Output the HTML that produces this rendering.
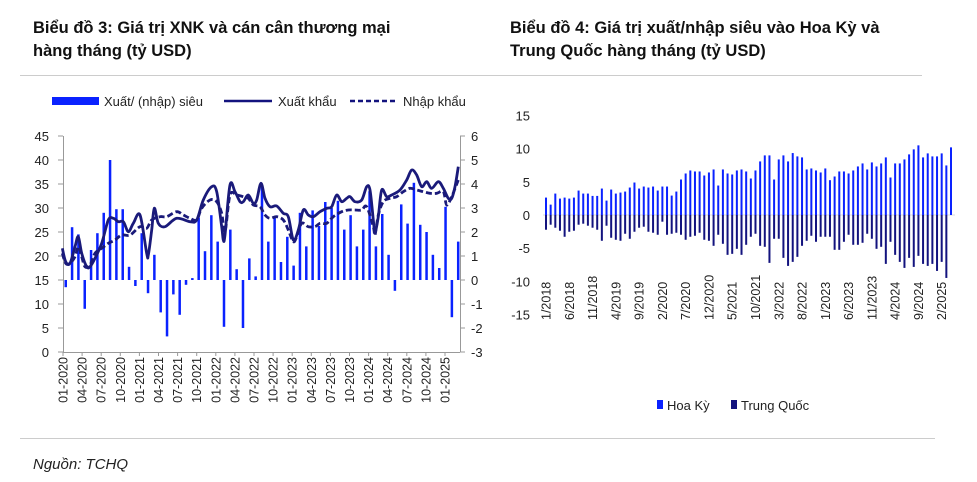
<!DOCTYPE html>
<html><head><meta charset="utf-8">
<style>
html,body{margin:0;padding:0;background:#fff;width:977px;height:482px;overflow:hidden}
svg{display:block;font-family:"Liberation Sans",sans-serif}
</style></head><body>
<svg id="s" width="977" height="482" xmlns="http://www.w3.org/2000/svg">
<text x="33" y="33" font-size="16.5" font-weight="bold" fill="#111">Biểu đồ 3: Giá trị XNK và cán cân thương mại</text>
<text x="33" y="56" font-size="16.5" font-weight="bold" fill="#111">hàng tháng (tỷ USD)</text>
<text x="510" y="33" font-size="16.5" font-weight="bold" fill="#111">Biểu đồ 4: Giá trị xuất/nhập siêu vào Hoa Kỳ và</text>
<text x="510" y="56" font-size="16.5" font-weight="bold" fill="#111">Trung Quốc hàng tháng (tỷ USD)</text>
<line x1="20" y1="75.5" x2="922" y2="75.5" stroke="#ccc" stroke-width="1"/>
<line x1="20" y1="438.5" x2="935" y2="438.5" stroke="#ccc" stroke-width="1"/>
<text x="33" y="469" font-size="15" font-style="italic" fill="#222">Nguồn: TCHQ</text>
<rect x="52" y="97" width="47" height="8" fill="#0a22ff"/>
<text x="104" y="106" font-size="13" fill="#222">Xuất/ (nhập) siêu</text>
<line x1="224" y1="101" x2="272" y2="101" stroke="#13137e" stroke-width="2.5"/>
<text x="278" y="106" font-size="13" fill="#222">Xuất khẩu</text>
<line x1="350" y1="101" x2="398" y2="101" stroke="#13137e" stroke-width="2.5" stroke-dasharray="5,3"/>
<text x="403" y="106" font-size="13" fill="#222">Nhập khẩu</text>
<rect x="657" y="400" width="6" height="9" fill="#0a22ff"/>
<text x="667" y="410" font-size="13" fill="#222">Hoa Kỳ</text>
<rect x="731" y="400" width="6" height="9" fill="#13137e"/>
<text x="741" y="410" font-size="13" fill="#222">Trung Quốc</text>
<g id="g"></g>
</svg>
<script>
var g=document.getElementById('g'),h='';
var yL=function(v){return 352-v*4.8},yR=function(v){return 280-v*24};
for(var i=0;i<=9;i++){var v=i*5;h+='<text x="49" y="'+(yL(v)+5)+'" font-size="13" text-anchor="end" fill="#222">'+v+'</text>';h+='<line x1="58" x2="63" y1="'+yL(v)+'" y2="'+yL(v)+'" stroke="#999"/>';}
for(var i=-3;i<=6;i++){h+='<text x="471" y="'+(yR(i)+5)+'" font-size="13" fill="#222">'+i+'</text>';h+='<line x1="460" x2="465" y1="'+yR(i)+'" y2="'+yR(i)+'" stroke="#999"/>';}
h+='<line x1="63.5" y1="136" x2="63.5" y2="352" stroke="#999"/><line x1="460.5" y1="136" x2="460.5" y2="352" stroke="#999"/><line x1="63" y1="352.5" x2="460" y2="352.5" stroke="#999"/>';
var bal=[-0.3,2.2,1.9,-1.2,1.25,1.95,2.8,5.0,2.95,2.95,0.55,-0.25,1.95,-0.55,1.05,-1.35,-2.35,-0.6,-1.45,-0.2,0.08,2.6,1.2,2.7,1.6,-1.95,2.1,0.45,-2.0,0.9,0.15,3.9,1.6,2.6,0.75,1.8,0.6,2.8,1.4,2.9,2.25,3.25,3.0,3.3,2.1,2.7,1.4,2.1,3.7,1.4,2.75,1.05,-0.45,3.15,2.35,4.05,2.3,2.0,1.05,0.5,3.05,-1.55,1.6];
var bx=function(i){return 65.7+i*6.33};
for(var i=0;i<63;i++){var v=bal[i];h+='<rect x="'+(bx(i)-1.2)+'" width="2.5" y="'+Math.min(yR(v),280)+'" height="'+Math.abs(v*24)+'" fill="#0a22ff"/>';}
var EX=[[97,385],[107,425],[120,430],[135,380],[145,350],[155,400],[170,440],[180,440],[195,415],[215,370],[235,300],[250,295],[265,305],[280,305],[295,335],[310,310],[330,285],[350,400],[355,405],[365,330],[373,265],[385,310],[405,320],[440,295],[480,305],[500,300],[520,240],[545,200],[560,215],[575,320],[580,360],[585,345],[600,195],[615,215],[630,245],[640,245],[655,225],[670,250],[680,240],[693,190],[705,235],[720,260],[740,258],[760,280],[775,290],[790,360],[805,330],[820,270],[835,285],[850,290],[870,275],[890,265],[905,260],[920,225],[935,245],[950,235],[960,230],[975,245],[995,240],[1010,200],[1020,210],[1030,300],[1035,340],[1045,290],[1055,210],[1070,230],[1085,225],[1110,210],[1130,180],[1145,150],[1160,165],[1175,200],[1190,185],[1205,205],[1225,185],[1240,205],[1255,235],[1265,235],[1275,200],[1285,140]];
var IM=[[97,400],[107,430],[120,430],[135,410],[145,380],[155,410],[165,440],[180,435],[195,400],[215,385],[235,370],[255,360],[275,345],[300,345],[330,320],[350,325],[365,300],[390,290],[410,290],[440,275],[460,285],[480,295],[500,300],[515,265],[540,240],[560,245],[575,280],[585,335],[600,225],[620,225],[640,230],[655,235],[670,255],[690,260],[705,285],[720,295],[740,290],[760,300],[775,330],[790,365],[800,350],[815,310],[835,320],[855,320],[870,310],[890,310],[910,290],[935,275],[955,270],[975,270],[995,270],[1010,260],[1030,320],[1035,345],[1045,285],[1060,245],[1080,235],[1100,230],[1120,215],[1140,205],[1160,210],[1180,215],[1200,220],[1220,220],[1240,215],[1250,255],[1265,230],[1285,180]];
function sm(a){var p=a.map(function(q){return [30+q[0]/3,120+q[1]/3]}),d='M'+p[0][0]+','+p[0][1];for(var i=0;i<p.length-1;i++){var p0=p[i-1]||p[i],p1=p[i],p2=p[i+1],p3=p[i+2]||p2;d+=' C'+(p1[0]+(p2[0]-p0[0])/6).toFixed(1)+','+(p1[1]+(p2[1]-p0[1])/6).toFixed(1)+' '+(p2[0]-(p3[0]-p1[0])/6).toFixed(1)+','+(p2[1]-(p3[1]-p1[1])/6).toFixed(1)+' '+p2[0].toFixed(1)+','+p2[1].toFixed(1);}return d;}
h+='<path d="'+sm(IM)+'" fill="none" stroke="#1a1a7a" stroke-width="2.8" stroke-dasharray="6,3"/>';
h+='<path d="'+sm(EX)+'" fill="none" stroke="#1a1a7a" stroke-width="2.8"/>';
var yrs=['2020','2021','2022','2023','2024','2025'],mm=['01','04','07','10'];
for(var k=0;k<21;k++){var x=63+k*19.1,lab=mm[k%4]+'-'+yrs[Math.floor(k/4)];h+='<line x1="'+x+'" x2="'+x+'" y1="352" y2="356" stroke="#999"/>';h+='<text transform="translate('+(x+4.5)+',357) rotate(-90)" font-size="12.5" text-anchor="end" fill="#222">'+lab+'</text>';}
var y2=function(v){return 215-v*6.63};
[15,10,5,0,-5,-10,-15].forEach(function(v){h+='<text x="530" y="'+(y2(v)+5)+'" font-size="13" text-anchor="end" fill="#222">'+v+'</text>'});
var us=[294,315,282,297,294,297,294,273,282,282,289,289,267,303,270,282,279,276,264,249,267,261,264,261,273,261,261,288,276,240,222,213,216,216,228,219,210,258,210,222,225,213,210,216,237,213,186,168,168,240,180,168,186,161,171,174,210,207,213,219,207,242,231,216,216,222,213,201,192,210,189,201,192,174,234,192,192,180,165,150,138,174,162,171,171,162,198,144];
var cn=[390,375,384,393,411,396,393,375,372,378,384,390,423,378,414,420,423,402,417,396,384,381,396,399,405,366,405,402,399,405,420,411,408,399,420,423,438,405,432,465,462,447,465,435,411,402,438,441,489,417,417,474,498,486,471,438,423,408,426,411,411,411,450,450,426,405,435,435,429,402,417,447,441,492,426,465,486,504,474,501,468,492,498,492,513,486,534];
var n=Math.max(us.length,cn.length),sp=(951-546)/(n-1);
h+='<line x1="543" x2="955" y1="215" y2="215" stroke="#ddd"/>';
for(var i=0;i<n;i++){var x=546+i*sp;if(us[i]!=null){var v=(346-us[i])/19.8;h+='<rect x="'+(x-1)+'" width="2" y="'+y2(v)+'" height="'+(v*6.63)+'" fill="#0a22ff"/>';}
if(cn[i]!=null){var v=(cn[i]-346)/19.8;h+='<rect x="'+(x-1)+'" width="2" y="215" height="'+(v*6.63)+'" fill="#13137e"/>';}}
var rl=['1/2018','6/2018','11/2018','4/2019','9/2019','2/2020','7/2020','12/2020','5/2021','10/2021','3/2022','8/2022','1/2023','6/2023','11/2023','4/2024','9/2024','2/2025'];
rl.forEach(function(l,k){var x=546+k*5*sp;h+='<text transform="translate('+(x+4.5)+',320) rotate(-90)" font-size="12.5" text-anchor="start" fill="#222">'+l+'</text>'});
g.innerHTML=h;
</script>
</body></html>
